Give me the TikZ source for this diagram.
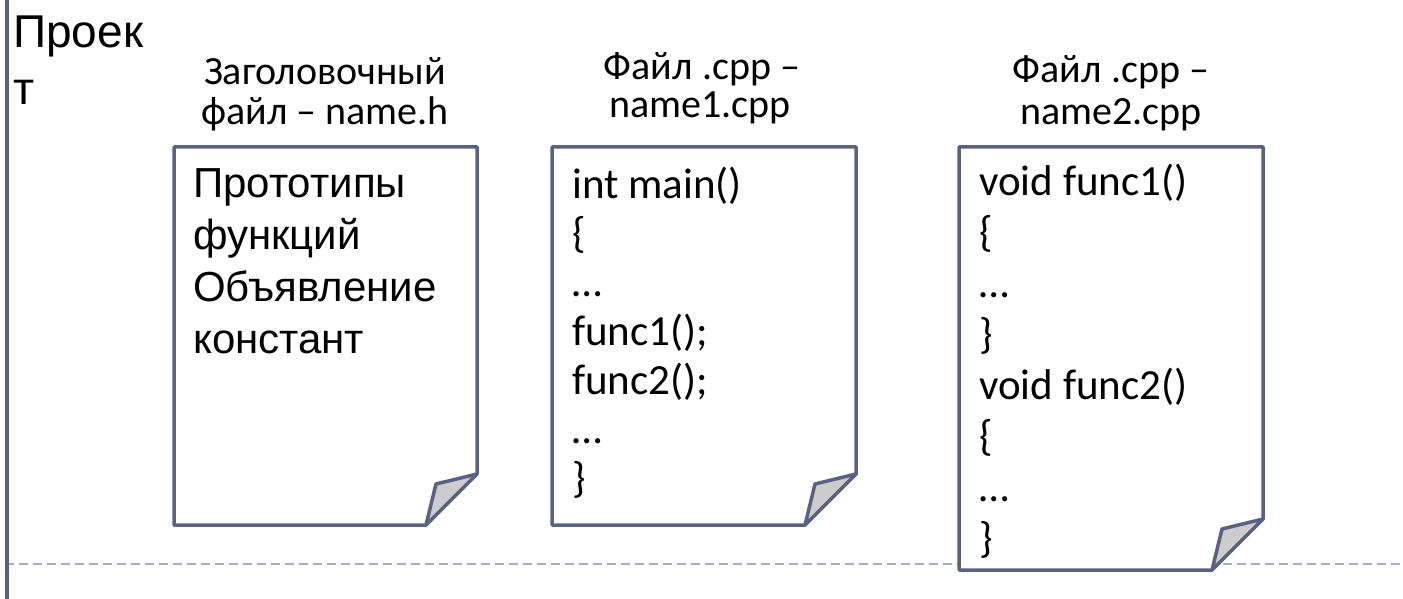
\documentclass[tikz,border=0pt]{standalone}
\usepackage{fontspec}
\setmainfont{Carlito}
\newfontfamily\arialfont{Liberation Sans}
\usepackage{tikz}

\definecolor{pageline}{RGB}{88,98,130}
\definecolor{foldgray}{RGB}{204,204,204}
\definecolor{sepline}{RGB}{154,179,203}

\tikzset{
  page/.style={draw=pageline, line width=3.5pt, line join=round, fill=white},
  codeline/.style={font=\fontsize{43}{50}\selectfont, inner sep=0pt, anchor=base west},
  protoline/.style={font=\arialfont\fontsize{42}{50}\selectfont, inner sep=0pt, anchor=base west},
  capline/.style={font=\fontsize{40}{46}\selectfont, inner sep=0pt, anchor=base},
}

% left, top, right, bottom
\newcommand{\docpage}[4]{%
  \draw[page] (#1,#2) -- (#3,#2) -- (#3,#4-51) -- (#3-51,#4) -- (#1,#4) -- cycle;
  \draw[page, fill=foldgray] (#3,#4-51) -- (#3-41,#4-41) -- (#3-51,#4) -- cycle;
}

\begin{document}
\begin{tikzpicture}[x=1pt, y=-1pt]
\useasboundingbox (0,0) rectangle (1403,599);

\draw[sepline, line width=2pt, dash pattern=on 9pt off 5pt] (5,564) -- (1403,564);
\draw[pageline, line width=3.5pt] (7,0) -- (7,599);

\node[font=\arialfont\fontsize{46}{50}\selectfont, inner sep=0pt, anchor=base west] (proj1) at (13,48) {Проек};
\node[font=\arialfont\fontsize{46}{50}\selectfont, inner sep=0pt, anchor=base west] (proj2) at (13,105) {т};

\docpage{174}{147}{477}{525}
\docpage{552}{147}{856}{525}
\docpage{959}{147}{1263}{570}

\node[capline] (hdr1a) at (325,85) {Заголовочный};
\node[capline] (hdr1b) at (325,125) {файл – name.h};
\node[capline] (hdr2a) at (702,80) {Файл .cpp –};
\node[capline] (hdr2b) at (700,118) {name1.cpp};
\node[capline] (hdr3a) at (1111,83) {Файл .cpp –};
\node[capline] (hdr3b) at (1111,125) {name2.cpp};

\foreach \t [count=\i] in {Прототипы, функций, Объявление, констант}
  \node[protoline] (h\i) at (193,145+52*\i) {\t};

\foreach \t [count=\i] in {int main(), \{, …, func1();, func2();, …, \}}
  \node[codeline] (m\i) at (572,149+49*\i) {\t};

\foreach \t [count=\i] in {void func1(), \{, …, \}, void func2(), \{, …, \}}
  \node[codeline] (f\i) at (979,144+51*\i) {\t};

\end{tikzpicture}
\end{document}
